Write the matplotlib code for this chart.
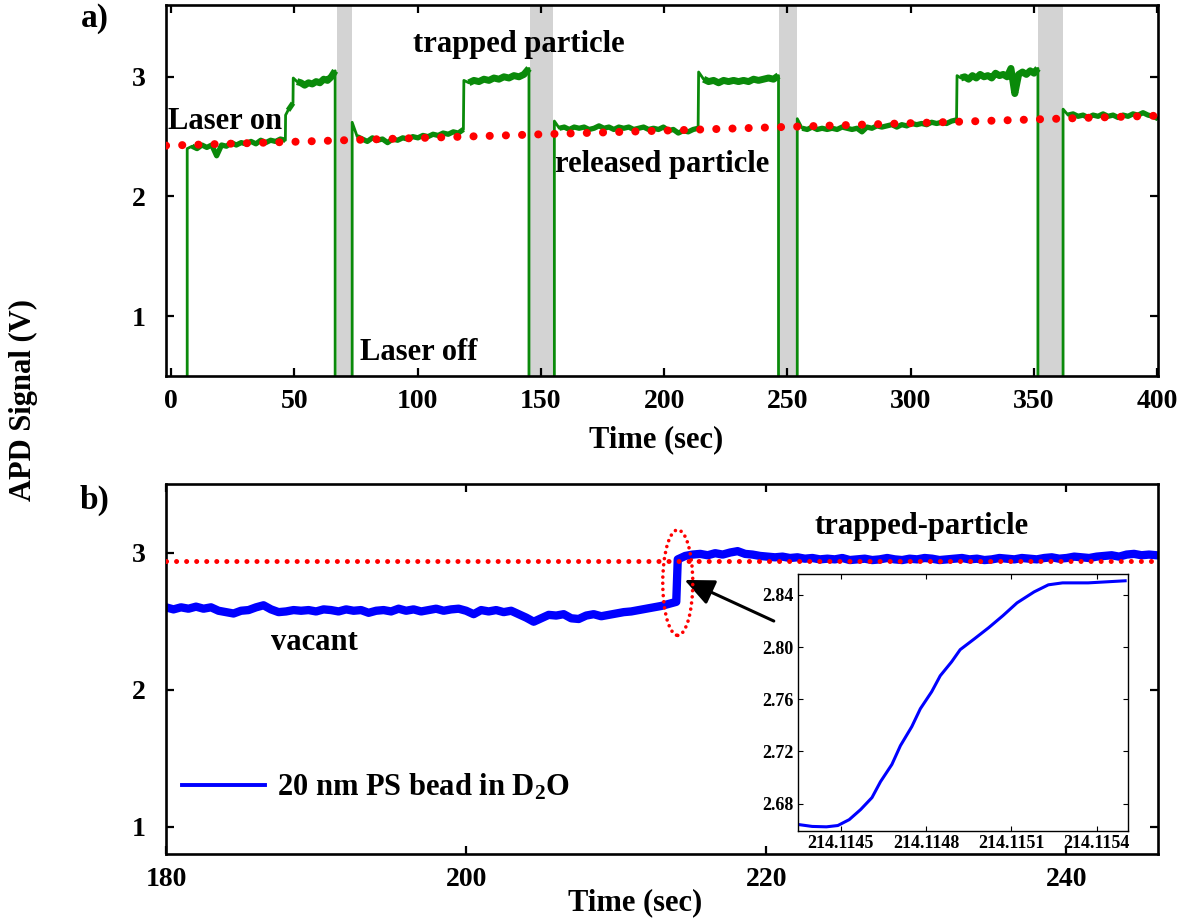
import numpy as np
import matplotlib
matplotlib.use('Agg')
import matplotlib.pyplot as plt
from matplotlib.patches import Ellipse
from matplotlib.lines import Line2D
from matplotlib.ticker import FormatStrFormatter

plt.rcParams['font.family'] = 'Liberation Serif'
plt.rcParams['font.weight'] = 'bold'
plt.rcParams['mathtext.fontset'] = 'custom'
plt.rcParams['mathtext.rm'] = 'Liberation Serif:bold'
plt.rcParams['mathtext.it'] = 'Liberation Serif:bold'
plt.rcParams['mathtext.bf'] = 'Liberation Serif:bold'

# ---- panel a: green APD trace, one entry per "laser on" level (start, end, values)
level_spans = [(6.6, 46.4), (46.5, 49.5), (49.6, 66.6),
               (73.5, 118.6), (118.8, 145.2),
               (155.5, 213.8), (214.0, 246.4),
               (254.0, 318.6), (318.8, 351.6),
               (361.8, 400.3)]
level_values = [
    [2.40, 2.42, 2.40, 2.43, 2.41, 2.43, 2.34, 2.43, 2.42, 2.45, 2.43, 2.45, 2.44, 2.46,
     2.44, 2.47, 2.45, 2.47, 2.46, 2.48, 2.47],
    [2.68, 2.72, 2.75, 2.78],
    [2.99, 2.96, 2.95, 2.93, 2.95, 2.94, 2.96, 2.95, 2.98, 2.97, 3.00, 3.05],
    [2.62, 2.50, 2.48, 2.46, 2.49, 2.47, 2.48, 2.45, 2.48, 2.47, 2.49, 2.48, 2.50, 2.49,
     2.51, 2.50, 2.52, 2.51, 2.53, 2.52, 2.54, 2.53, 2.56],
    [2.97, 2.95, 2.97, 2.96, 2.98, 2.97, 2.99, 2.98, 3.00, 2.99, 3.01, 3.00, 3.02, 3.07],
    [2.63, 2.57, 2.58, 2.56, 2.58, 2.57, 2.58, 2.56, 2.57, 2.59, 2.57, 2.58, 2.56, 2.58,
     2.57, 2.58, 2.56, 2.57, 2.58, 2.56, 2.57, 2.56, 2.58, 2.55, 2.56, 2.53, 2.55, 2.54,
     2.56, 2.57],
    [3.04, 2.98, 2.96, 2.97, 2.95, 2.97, 2.96, 2.97, 2.96, 2.97, 2.96, 2.98, 2.97, 2.98,
     2.99, 2.98, 3.01],
    [2.65, 2.57, 2.56, 2.58, 2.56, 2.57, 2.56, 2.57, 2.56, 2.58, 2.57, 2.56, 2.57, 2.54,
     2.58, 2.57, 2.59, 2.58, 2.59, 2.60, 2.58, 2.60, 2.59, 2.61, 2.60, 2.61, 2.60, 2.62,
     2.61, 2.62, 2.61, 2.63, 2.64],
    [3.01, 2.99, 3.00, 2.98, 3.01, 2.99, 3.02, 3.00, 3.01, 2.99, 3.03, 3.01, 3.02, 3.00,
     3.07, 2.86, 3.02, 3.04, 3.02, 3.05, 3.03, 3.07],
    [2.73, 2.68, 2.69, 2.67, 2.68, 2.66, 2.68, 2.67, 2.69, 2.67, 2.68, 2.66, 2.68, 2.67,
     2.69, 2.68, 2.70, 2.68, 2.67, 2.65],
]
laser_off_bands = [(67.4, 73.5), (145.6, 155.0), (246.7, 254.0), (351.7, 361.8)]
red_a_t = [-2.0, 400.3]
red_a_v = [2.425, 2.675]

# ---- panel b: blue trace around the trapping event
blue_low_t = [180.0, 214.0]
blue_low_v = [2.60, 2.585, 2.60, 2.59, 2.605, 2.59, 2.60, 2.575, 2.565, 2.555, 2.575, 2.58,
              2.60, 2.615, 2.585, 2.565, 2.57, 2.58, 2.575, 2.58, 2.57, 2.585, 2.58, 2.57,
              2.585, 2.575, 2.58, 2.56, 2.575, 2.58, 2.57, 2.59, 2.575, 2.585, 2.57, 2.58,
              2.59, 2.575, 2.585, 2.59, 2.575, 2.55, 2.58, 2.57, 2.58, 2.565, 2.575, 2.55,
              2.525, 2.495, 2.52, 2.545, 2.54, 2.55, 2.52, 2.515, 2.54, 2.55, 2.535, 2.545,
              2.555, 2.565, 2.57, 2.58, 2.59, 2.60, 2.61, 2.625, 2.64]
blue_high_t = [214.1, 246.0]
blue_high_v = [2.95, 2.975, 2.985, 2.99, 2.98, 2.995, 2.985, 3.00, 3.01, 2.99, 2.985, 2.975,
               2.97, 2.965, 2.97, 2.96, 2.965, 2.955, 2.96, 2.95, 2.955, 2.95, 2.96, 2.945,
               2.95, 2.955, 2.945, 2.95, 2.96, 2.95, 2.945, 2.955, 2.95, 2.96, 2.955, 2.945,
               2.95, 2.955, 2.96, 2.95, 2.955, 2.945, 2.95, 2.96, 2.955, 2.95, 2.96, 2.955,
               2.95, 2.96, 2.965, 2.955, 2.96, 2.97, 2.965, 2.96, 2.97, 2.975, 2.98, 2.97,
               2.985, 2.99, 2.98, 2.985, 2.98]
red_b_t = [180.0, 246.0]
red_b_v = [2.94, 2.94]

# ---- inset: zoom on the step
inset_t = [214.11435, 214.11440, 214.11445, 214.11449, 214.11453, 214.11457, 214.11461,
           214.11464, 214.11468, 214.11471, 214.11475, 214.11478, 214.11482, 214.11485,
           214.11489, 214.11492, 214.11497, 214.11502, 214.11507, 214.11512, 214.11518,
           214.11523, 214.11528, 214.11537, 214.11550]
inset_v = [2.664, 2.6625, 2.6622, 2.6632, 2.6677, 2.6754, 2.6846, 2.6968, 2.710, 2.7244,
           2.739, 2.7527, 2.7658, 2.778, 2.7887, 2.798, 2.8063, 2.8148, 2.824, 2.8339,
           2.8423, 2.8477, 2.8492, 2.8492, 2.8508]
inset_xticks = [214.1145, 214.1148, 214.1151, 214.1154]
inset_yticks = [2.68, 2.72, 2.76, 2.80, 2.84]

W, H = 1193, 924
fig = plt.figure(figsize=(W / 100, H / 100), dpi=100)
ax1 = fig.add_axes([166 / W, 1 - 376 / H, 992 / W, 371 / H])
ax2 = fig.add_axes([166 / W, 1 - 854 / H, 992 / W, 370 / H])
axin = fig.add_axes([798 / W, 1 - 831 / H, 330 / W, 257 / H])


def style(ax, size, length, width, spine, pad):
    ax.tick_params(direction='in', top=True, right=True, labelsize=size,
                   length=length, width=width, pad=pad)
    for s in ax.spines.values():
        s.set_linewidth(spine)


# build the green trace: drop to 0 (off scale) while the laser is off
t_all, v_all = [level_spans[0][0]], [0.0]
for (t0, t1), vals in zip(level_spans, level_values):
    if t0 - t_all[-1] > 2:
        t_all += [t_all[-1], t0]
        v_all += [0.0, 0.0]
    t_all += list(np.linspace(t0, t1, len(vals)))
    v_all += vals

for b0, b1 in laser_off_bands:
    ax1.axvspan(b0, b1, color='#d3d3d3', lw=0, zorder=1)
ax1.plot(t_all, v_all, color='#0a8a0a', lw=2.0, zorder=2)
# noisy plateaus look like a thick band
for (t0, t1), vals in zip(level_spans, level_values):
    thick = 5.0 if np.mean(vals) > 2.85 else 3.8
    ax1.plot(np.linspace(t0, t1, len(vals))[1:], vals[1:], color='#0a8a0a', lw=thick,
             zorder=2, solid_joinstyle='round', solid_capstyle='butt')
ax1.plot(red_a_t, red_a_v, color='red', lw=5.8, linestyle=(0, (0.01, 2.0)),
         dash_capstyle='round', zorder=3)
ax1.set_xlim(-2, 400.3)
ax1.set_ylim(0.5, 3.6)
ax1.set_xticks(range(0, 401, 50))
ax1.set_yticks([1, 2, 3])
style(ax1, 20, 6, 1.6, 1.9, 9)
for lab in ax1.get_yticklabels():
    lab.set_x(-0.008)

ax1.text(-1.1, 2.63, 'Laser on', fontsize=22, va='center', ha='left', zorder=4)
ax1.text(98.3, 3.27, 'trapped particle', fontsize=22, va='center', ha='left')
ax1.text(155.9, 2.27, 'released particle', fontsize=22, va='center', ha='left')
ax1.text(76.8, 0.70, 'Laser off', fontsize=22, va='center', ha='left')

# panel b
bt = list(np.linspace(blue_low_t[0], blue_low_t[1], len(blue_low_v))) + \
     list(np.linspace(blue_high_t[0], blue_high_t[1], len(blue_high_v)))
bv = blue_low_v + blue_high_v
ax2.plot(bt, bv, color='#0000ff', lw=6.0, zorder=2, solid_joinstyle='round')
ax2.plot(red_b_t, red_b_v, color='red', lw=3.6, linestyle=(0, (0.01, 2.0)),
         dash_capstyle='round', zorder=3)
ell = Ellipse((214.1, 2.78), width=2.0, height=0.77, fill=False, edgecolor='red',
              lw=2.6, linestyle=(0, (0.01, 1.7)), zorder=4)
ell.set_capstyle('round')
ax2.add_patch(ell)
ax2.annotate('', xy=(214.55, 2.80), xytext=(220.5, 2.50),
             arrowprops=dict(arrowstyle='-|>,head_length=0.9,head_width=0.4',
                             lw=2.2, color='k', shrinkA=0, shrinkB=0, mutation_scale=20))
ax2.set_xlim(180, 246.1)
ax2.set_ylim(0.8, 3.5)
ax2.set_xticks([180, 200, 220, 240])
ax2.set_yticks([1, 2, 3])
style(ax2, 20, 6, 1.6, 1.9, 9)
for lab in ax2.get_yticklabels():
    lab.set_x(-0.008)
ax2.text(223.2, 3.19, 'trapped-particle', fontsize=22, va='center', ha='left')
ax2.text(187.0, 2.34, 'vacant', fontsize=22, va='center', ha='left')
proxy = Line2D([], [], color='#0000ff', lw=2.8)
ax2.legend([proxy], ['20 nm PS bead in D$_2$O'], loc='center left',
           bbox_to_anchor=(16 / 992, 0.181), frameon=False, fontsize=22,
           handlelength=2.7, handletextpad=0.4, borderpad=0, borderaxespad=0)

# inset
axin.plot(inset_t, inset_v, color='#0000ff', lw=2.2)
axin.set_xlim(214.11435, 214.11551)
axin.set_ylim(2.659, 2.856)
axin.set_xticks(inset_xticks)
axin.set_yticks(inset_yticks)
axin.xaxis.set_major_formatter(FormatStrFormatter('%.4f'))
axin.yaxis.set_major_formatter(FormatStrFormatter('%.2f'))
style(axin, 13, 3.5, 0.8, 1.0, 3)

fig.text(23 / W, 1 - 400 / H, 'APD Signal (V)', rotation=90, fontsize=22,
         ha='center', va='center')
fig.text(95 / W, 1 - 18 / H, 'a)', fontsize=24, ha='center', va='center')
fig.text(95 / W, 1 - 500 / H, 'b)', fontsize=24, ha='center', va='center')
fig.text(656 / W, 1 - 440 / H, 'Time (sec)', fontsize=22, ha='center', va='center')
fig.text(635 / W, 1 - 903 / H, 'Time (sec)', fontsize=22, ha='center', va='center')

fig.savefig('out.png', dpi=100)
